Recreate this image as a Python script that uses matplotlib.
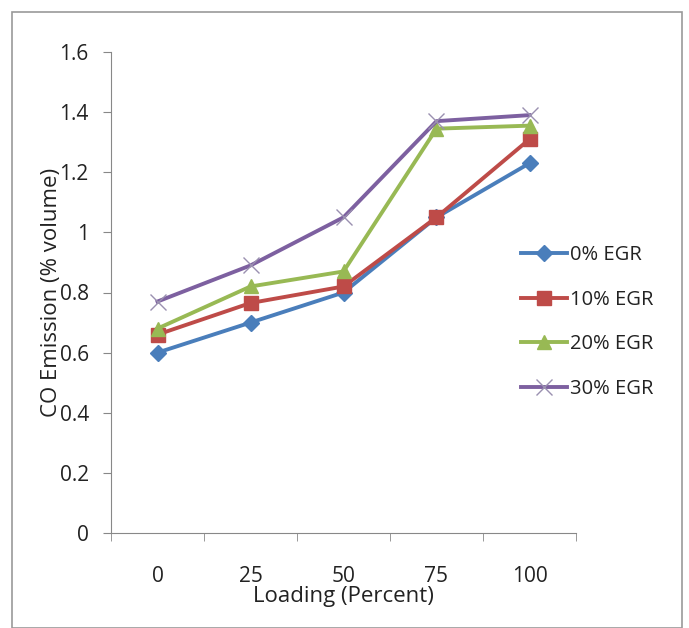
import matplotlib.pyplot as plt
from matplotlib.patches import Rectangle

##DATA
loading = ['0', '25', '50', '75', '100']
egr0 = [0.60, 0.70, 0.80, 1.05, 1.23]
egr10 = [0.66, 0.765, 0.82, 1.05, 1.31]
egr20 = [0.68, 0.82, 0.87, 1.345, 1.355]
egr30 = [0.77, 0.89, 1.05, 1.37, 1.39]
series_names = ['0% EGR', '10% EGR', '20% EGR', '30% EGR']
yticks = [0, 0.2, 0.4, 0.6, 0.8, 1.0, 1.2, 1.4, 1.6]
ytick_labels = ['0', '0.2', '0.4', '0.6', '0.8', '1', '1.2', '1.4', '1.6']

##MAIN
plt.rcParams['font.family'] = ['Open Sans', 'DejaVu Sans']

fig = plt.figure(figsize=(6.89, 6.28), dpi=100)
ax = fig.add_axes([111 / 689, 1 - 533 / 628, 465 / 689, 481 / 628])

x = list(range(len(loading)))
styles = [
    dict(color='#4A7EBB', marker='D', markersize=8),
    dict(color='#BE4B48', marker='s', markersize=10),
    dict(color='#98B954', marker='^', markersize=10),
    dict(color='#7D60A0', marker='x', markersize=11, markeredgewidth=1.0,
         markeredgecolor='#9a90b0'),
]
for vals, name, st in zip([egr0, egr10, egr20, egr30], series_names, styles):
    ax.plot(x, vals, linewidth=2.8, label=name, **st)

ax.set_xlim(-0.5, len(loading) - 0.5)
ax.set_ylim(0, 1.6)
ax.set_yticks(yticks)
ax.set_yticklabels(ytick_labels, fontsize=15, color='#222222')
ax.set_xticks(x)
ax.set_xticklabels(loading, fontsize=15, color='#222222')
ax.set_xticks([i - 0.5 for i in range(len(loading) + 1)], minor=True)
ax.tick_params(axis='x', which='major', length=0, pad=24)
ax.tick_params(axis='x', which='minor', length=6, color='#888888')
ax.tick_params(axis='y', length=6, color='#888888', pad=10)

for s in ['top', 'right']:
    ax.spines[s].set_visible(False)
for s in ['left', 'bottom']:
    ax.spines[s].set_color('#888888')

ax.set_ylabel('CO Emission (% volume)', fontsize=16, color='#222222', labelpad=-2)
ax.set_xlabel('Loading (Percent)', fontsize=16, color='#222222', labelpad=-1)

fig.legend(loc='upper left', bbox_to_anchor=(503 / 689, 1 - 227 / 628),
           frameon=False, fontsize=14.5, handlelength=2.3, handletextpad=0.15,
           labelspacing=1.22, labelcolor='#222222')

fig.patches.append(Rectangle((12 / 689, 0.0), 670 / 689, 1 - 12 / 628,
                             transform=fig.transFigure, fill=False,
                             edgecolor='#999999', linewidth=1.2))

plt.savefig('out.png')
